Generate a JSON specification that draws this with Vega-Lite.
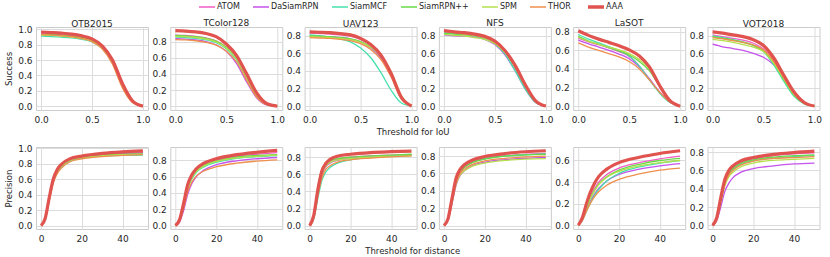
{
"$schema":"https://vega.github.io/schema/vega-lite/v6.json",
"padding":{"left":4,"top":3,"right":5,"bottom":2},
"config":{"font":"DejaVu Sans","view":{"stroke":"#cccccc","strokeWidth":1},
"axis":{"grid":true,"gridColor":"#dcdcdc","domain":false,"ticks":false,"labelFontSize":9,"labelColor":"#262626","titleFontSize":8.5,"titleFontWeight":"normal","titleColor":"#262626","labelPadding":4,"labelFlush":false,"titlePadding":4},
"axisX":{"labelPadding":5},
"title":{"fontSize":9,"fontWeight":"normal","color":"#262626","offset":-4},
"legend":{"orient":"top","layout":{"top":{"anchor":"middle"}},"offset":4,"direction":"horizontal","gridAlign":"none","symbolType":"stroke","symbolSize":256,"symbolStrokeWidth":1.5,"labelFontSize":8,"labelColor":"#262626","columnPadding":10,"labelOffset":6,"padding":0}},
"datasets":{
"s1":[
{"t":"ATOM","x":0,"y":0.94},{"t":"ATOM","x":0.1,"y":0.935},{"t":"ATOM","x":0.2,"y":0.928},{"t":"ATOM","x":0.3,"y":0.915},{"t":"ATOM","x":0.4,"y":0.893},{"t":"ATOM","x":0.5,"y":0.855},{"t":"ATOM","x":0.6,"y":0.765},{"t":"ATOM","x":0.7,"y":0.58},{"t":"ATOM","x":0.8,"y":0.265},{"t":"ATOM","x":0.9,"y":0.055},{"t":"ATOM","x":1,"y":0},
{"t":"DaSiamRPN","x":0,"y":0.935},{"t":"DaSiamRPN","x":0.1,"y":0.93},{"t":"DaSiamRPN","x":0.2,"y":0.922},{"t":"DaSiamRPN","x":0.3,"y":0.91},{"t":"DaSiamRPN","x":0.4,"y":0.89},{"t":"DaSiamRPN","x":0.5,"y":0.86},{"t":"DaSiamRPN","x":0.6,"y":0.78},{"t":"DaSiamRPN","x":0.7,"y":0.61},{"t":"DaSiamRPN","x":0.8,"y":0.3},{"t":"DaSiamRPN","x":0.9,"y":0.07},{"t":"DaSiamRPN","x":1,"y":0},
{"t":"SiamMCF","x":0,"y":0.91},{"t":"SiamMCF","x":0.1,"y":0.905},{"t":"SiamMCF","x":0.2,"y":0.898},{"t":"SiamMCF","x":0.3,"y":0.888},{"t":"SiamMCF","x":0.4,"y":0.87},{"t":"SiamMCF","x":0.5,"y":0.835},{"t":"SiamMCF","x":0.6,"y":0.75},{"t":"SiamMCF","x":0.7,"y":0.57},{"t":"SiamMCF","x":0.8,"y":0.26},{"t":"SiamMCF","x":0.9,"y":0.05},{"t":"SiamMCF","x":1,"y":0},
{"t":"SiamRPN++","x":0,"y":0.935},{"t":"SiamRPN++","x":0.1,"y":0.93},{"t":"SiamRPN++","x":0.2,"y":0.922},{"t":"SiamRPN++","x":0.3,"y":0.91},{"t":"SiamRPN++","x":0.4,"y":0.89},{"t":"SiamRPN++","x":0.5,"y":0.855},{"t":"SiamRPN++","x":0.6,"y":0.77},{"t":"SiamRPN++","x":0.7,"y":0.59},{"t":"SiamRPN++","x":0.8,"y":0.27},{"t":"SiamRPN++","x":0.9,"y":0.055},{"t":"SiamRPN++","x":1,"y":0},
{"t":"SPM","x":0,"y":0.925},{"t":"SPM","x":0.1,"y":0.92},{"t":"SPM","x":0.2,"y":0.912},{"t":"SPM","x":0.3,"y":0.9},{"t":"SPM","x":0.4,"y":0.88},{"t":"SPM","x":0.5,"y":0.845},{"t":"SPM","x":0.6,"y":0.76},{"t":"SPM","x":0.7,"y":0.575},{"t":"SPM","x":0.8,"y":0.26},{"t":"SPM","x":0.9,"y":0.05},{"t":"SPM","x":1,"y":0},
{"t":"THOR","x":0,"y":0.93},{"t":"THOR","x":0.1,"y":0.925},{"t":"THOR","x":0.2,"y":0.916},{"t":"THOR","x":0.3,"y":0.903},{"t":"THOR","x":0.4,"y":0.88},{"t":"THOR","x":0.5,"y":0.84},{"t":"THOR","x":0.6,"y":0.745},{"t":"THOR","x":0.7,"y":0.55},{"t":"THOR","x":0.8,"y":0.235},{"t":"THOR","x":0.9,"y":0.045},{"t":"THOR","x":1,"y":0},
{"t":"AAA","x":0,"y":0.965},{"t":"AAA","x":0.1,"y":0.958},{"t":"AAA","x":0.2,"y":0.95},{"t":"AAA","x":0.3,"y":0.938},{"t":"AAA","x":0.4,"y":0.915},{"t":"AAA","x":0.5,"y":0.875},{"t":"AAA","x":0.6,"y":0.785},{"t":"AAA","x":0.7,"y":0.605},{"t":"AAA","x":0.8,"y":0.29},{"t":"AAA","x":0.9,"y":0.065},{"t":"AAA","x":1,"y":0}],
"s2":[
{"t":"ATOM","x":0,"y":0.88},{"t":"ATOM","x":0.1,"y":0.875},{"t":"ATOM","x":0.2,"y":0.865},{"t":"ATOM","x":0.3,"y":0.845},{"t":"ATOM","x":0.4,"y":0.81},{"t":"ATOM","x":0.5,"y":0.73},{"t":"ATOM","x":0.6,"y":0.6},{"t":"ATOM","x":0.7,"y":0.37},{"t":"ATOM","x":0.8,"y":0.14},{"t":"ATOM","x":0.9,"y":0.025},{"t":"ATOM","x":1,"y":0},
{"t":"DaSiamRPN","x":0,"y":0.835},{"t":"DaSiamRPN","x":0.1,"y":0.83},{"t":"DaSiamRPN","x":0.2,"y":0.82},{"t":"DaSiamRPN","x":0.3,"y":0.8},{"t":"DaSiamRPN","x":0.4,"y":0.76},{"t":"DaSiamRPN","x":0.5,"y":0.68},{"t":"DaSiamRPN","x":0.6,"y":0.53},{"t":"DaSiamRPN","x":0.7,"y":0.3},{"t":"DaSiamRPN","x":0.8,"y":0.1},{"t":"DaSiamRPN","x":0.9,"y":0.015},{"t":"DaSiamRPN","x":1,"y":0},
{"t":"SiamMCF","x":0,"y":0.855},{"t":"SiamMCF","x":0.1,"y":0.85},{"t":"SiamMCF","x":0.2,"y":0.84},{"t":"SiamMCF","x":0.3,"y":0.82},{"t":"SiamMCF","x":0.4,"y":0.785},{"t":"SiamMCF","x":0.5,"y":0.71},{"t":"SiamMCF","x":0.6,"y":0.575},{"t":"SiamMCF","x":0.7,"y":0.35},{"t":"SiamMCF","x":0.8,"y":0.125},{"t":"SiamMCF","x":0.9,"y":0.02},{"t":"SiamMCF","x":1,"y":0},
{"t":"SiamRPN++","x":0,"y":0.875},{"t":"SiamRPN++","x":0.1,"y":0.87},{"t":"SiamRPN++","x":0.2,"y":0.86},{"t":"SiamRPN++","x":0.3,"y":0.84},{"t":"SiamRPN++","x":0.4,"y":0.805},{"t":"SiamRPN++","x":0.5,"y":0.73},{"t":"SiamRPN++","x":0.6,"y":0.6},{"t":"SiamRPN++","x":0.7,"y":0.37},{"t":"SiamRPN++","x":0.8,"y":0.14},{"t":"SiamRPN++","x":0.9,"y":0.025},{"t":"SiamRPN++","x":1,"y":0},
{"t":"SPM","x":0,"y":0.865},{"t":"SPM","x":0.1,"y":0.86},{"t":"SPM","x":0.2,"y":0.85},{"t":"SPM","x":0.3,"y":0.83},{"t":"SPM","x":0.4,"y":0.795},{"t":"SPM","x":0.5,"y":0.72},{"t":"SPM","x":0.6,"y":0.59},{"t":"SPM","x":0.7,"y":0.36},{"t":"SPM","x":0.8,"y":0.13},{"t":"SPM","x":0.9,"y":0.02},{"t":"SPM","x":1,"y":0},
{"t":"THOR","x":0,"y":0.825},{"t":"THOR","x":0.1,"y":0.82},{"t":"THOR","x":0.2,"y":0.81},{"t":"THOR","x":0.3,"y":0.79},{"t":"THOR","x":0.4,"y":0.755},{"t":"THOR","x":0.5,"y":0.68},{"t":"THOR","x":0.6,"y":0.55},{"t":"THOR","x":0.7,"y":0.32},{"t":"THOR","x":0.8,"y":0.11},{"t":"THOR","x":0.9,"y":0.018},{"t":"THOR","x":1,"y":0},
{"t":"AAA","x":0,"y":0.935},{"t":"AAA","x":0.1,"y":0.93},{"t":"AAA","x":0.2,"y":0.92},{"t":"AAA","x":0.3,"y":0.9},{"t":"AAA","x":0.4,"y":0.86},{"t":"AAA","x":0.5,"y":0.77},{"t":"AAA","x":0.6,"y":0.63},{"t":"AAA","x":0.7,"y":0.4},{"t":"AAA","x":0.8,"y":0.16},{"t":"AAA","x":0.9,"y":0.03},{"t":"AAA","x":1,"y":0}],
"s3":[
{"t":"ATOM","x":0,"y":0.83},{"t":"ATOM","x":0.1,"y":0.825},{"t":"ATOM","x":0.2,"y":0.82},{"t":"ATOM","x":0.3,"y":0.81},{"t":"ATOM","x":0.4,"y":0.795},{"t":"ATOM","x":0.5,"y":0.76},{"t":"ATOM","x":0.6,"y":0.69},{"t":"ATOM","x":0.7,"y":0.57},{"t":"ATOM","x":0.8,"y":0.36},{"t":"ATOM","x":0.9,"y":0.1},{"t":"ATOM","x":1,"y":0},
{"t":"DaSiamRPN","x":0,"y":0.8},{"t":"DaSiamRPN","x":0.1,"y":0.795},{"t":"DaSiamRPN","x":0.2,"y":0.79},{"t":"DaSiamRPN","x":0.3,"y":0.78},{"t":"DaSiamRPN","x":0.4,"y":0.765},{"t":"DaSiamRPN","x":0.5,"y":0.73},{"t":"DaSiamRPN","x":0.6,"y":0.665},{"t":"DaSiamRPN","x":0.7,"y":0.55},{"t":"DaSiamRPN","x":0.8,"y":0.35},{"t":"DaSiamRPN","x":0.9,"y":0.09},{"t":"DaSiamRPN","x":1,"y":0},
{"t":"SiamMCF","x":0,"y":0.81},{"t":"SiamMCF","x":0.1,"y":0.8},{"t":"SiamMCF","x":0.2,"y":0.785},{"t":"SiamMCF","x":0.3,"y":0.765},{"t":"SiamMCF","x":0.4,"y":0.73},{"t":"SiamMCF","x":0.5,"y":0.66},{"t":"SiamMCF","x":0.6,"y":0.55},{"t":"SiamMCF","x":0.7,"y":0.38},{"t":"SiamMCF","x":0.8,"y":0.18},{"t":"SiamMCF","x":0.9,"y":0.035},{"t":"SiamMCF","x":1,"y":0},
{"t":"SiamRPN++","x":0,"y":0.8},{"t":"SiamRPN++","x":0.1,"y":0.795},{"t":"SiamRPN++","x":0.2,"y":0.79},{"t":"SiamRPN++","x":0.3,"y":0.78},{"t":"SiamRPN++","x":0.4,"y":0.765},{"t":"SiamRPN++","x":0.5,"y":0.735},{"t":"SiamRPN++","x":0.6,"y":0.675},{"t":"SiamRPN++","x":0.7,"y":0.57},{"t":"SiamRPN++","x":0.8,"y":0.38},{"t":"SiamRPN++","x":0.9,"y":0.11},{"t":"SiamRPN++","x":1,"y":0},
{"t":"SPM","x":0,"y":0.79},{"t":"SPM","x":0.1,"y":0.785},{"t":"SPM","x":0.2,"y":0.78},{"t":"SPM","x":0.3,"y":0.77},{"t":"SPM","x":0.4,"y":0.755},{"t":"SPM","x":0.5,"y":0.725},{"t":"SPM","x":0.6,"y":0.67},{"t":"SPM","x":0.7,"y":0.57},{"t":"SPM","x":0.8,"y":0.39},{"t":"SPM","x":0.9,"y":0.12},{"t":"SPM","x":1,"y":0},
{"t":"THOR","x":0,"y":0.78},{"t":"THOR","x":0.1,"y":0.775},{"t":"THOR","x":0.2,"y":0.77},{"t":"THOR","x":0.3,"y":0.76},{"t":"THOR","x":0.4,"y":0.745},{"t":"THOR","x":0.5,"y":0.71},{"t":"THOR","x":0.6,"y":0.645},{"t":"THOR","x":0.7,"y":0.53},{"t":"THOR","x":0.8,"y":0.33},{"t":"THOR","x":0.9,"y":0.08},{"t":"THOR","x":1,"y":0},
{"t":"AAA","x":0,"y":0.845},{"t":"AAA","x":0.1,"y":0.84},{"t":"AAA","x":0.2,"y":0.835},{"t":"AAA","x":0.3,"y":0.825},{"t":"AAA","x":0.4,"y":0.81},{"t":"AAA","x":0.5,"y":0.77},{"t":"AAA","x":0.6,"y":0.7},{"t":"AAA","x":0.7,"y":0.58},{"t":"AAA","x":0.8,"y":0.37},{"t":"AAA","x":0.9,"y":0.1},{"t":"AAA","x":1,"y":0}],
"s4":[
{"t":"ATOM","x":0,"y":0.84},{"t":"ATOM","x":0.1,"y":0.83},{"t":"ATOM","x":0.2,"y":0.82},{"t":"ATOM","x":0.3,"y":0.81},{"t":"ATOM","x":0.4,"y":0.785},{"t":"ATOM","x":0.5,"y":0.73},{"t":"ATOM","x":0.6,"y":0.62},{"t":"ATOM","x":0.7,"y":0.44},{"t":"ATOM","x":0.8,"y":0.22},{"t":"ATOM","x":0.9,"y":0.05},{"t":"ATOM","x":1,"y":0},
{"t":"DaSiamRPN","x":0,"y":0.81},{"t":"DaSiamRPN","x":0.1,"y":0.8},{"t":"DaSiamRPN","x":0.2,"y":0.795},{"t":"DaSiamRPN","x":0.3,"y":0.785},{"t":"DaSiamRPN","x":0.4,"y":0.76},{"t":"DaSiamRPN","x":0.5,"y":0.7},{"t":"DaSiamRPN","x":0.6,"y":0.58},{"t":"DaSiamRPN","x":0.7,"y":0.4},{"t":"DaSiamRPN","x":0.8,"y":0.19},{"t":"DaSiamRPN","x":0.9,"y":0.04},{"t":"DaSiamRPN","x":1,"y":0},
{"t":"SiamMCF","x":0,"y":0.83},{"t":"SiamMCF","x":0.1,"y":0.825},{"t":"SiamMCF","x":0.2,"y":0.815},{"t":"SiamMCF","x":0.3,"y":0.8},{"t":"SiamMCF","x":0.4,"y":0.77},{"t":"SiamMCF","x":0.5,"y":0.71},{"t":"SiamMCF","x":0.6,"y":0.59},{"t":"SiamMCF","x":0.7,"y":0.4},{"t":"SiamMCF","x":0.8,"y":0.19},{"t":"SiamMCF","x":0.9,"y":0.04},{"t":"SiamMCF","x":1,"y":0},
{"t":"SiamRPN++","x":0,"y":0.83},{"t":"SiamRPN++","x":0.1,"y":0.82},{"t":"SiamRPN++","x":0.2,"y":0.81},{"t":"SiamRPN++","x":0.3,"y":0.8},{"t":"SiamRPN++","x":0.4,"y":0.78},{"t":"SiamRPN++","x":0.5,"y":0.725},{"t":"SiamRPN++","x":0.6,"y":0.615},{"t":"SiamRPN++","x":0.7,"y":0.44},{"t":"SiamRPN++","x":0.8,"y":0.22},{"t":"SiamRPN++","x":0.9,"y":0.05},{"t":"SiamRPN++","x":1,"y":0},
{"t":"SPM","x":0,"y":0.815},{"t":"SPM","x":0.1,"y":0.805},{"t":"SPM","x":0.2,"y":0.795},{"t":"SPM","x":0.3,"y":0.78},{"t":"SPM","x":0.4,"y":0.76},{"t":"SPM","x":0.5,"y":0.71},{"t":"SPM","x":0.6,"y":0.61},{"t":"SPM","x":0.7,"y":0.44},{"t":"SPM","x":0.8,"y":0.23},{"t":"SPM","x":0.9,"y":0.055},{"t":"SPM","x":1,"y":0},
{"t":"THOR","x":0,"y":0.85},{"t":"THOR","x":0.1,"y":0.835},{"t":"THOR","x":0.2,"y":0.82},{"t":"THOR","x":0.3,"y":0.805},{"t":"THOR","x":0.4,"y":0.78},{"t":"THOR","x":0.5,"y":0.725},{"t":"THOR","x":0.6,"y":0.62},{"t":"THOR","x":0.7,"y":0.45},{"t":"THOR","x":0.8,"y":0.23},{"t":"THOR","x":0.9,"y":0.055},{"t":"THOR","x":1,"y":0},
{"t":"AAA","x":0,"y":0.86},{"t":"AAA","x":0.1,"y":0.845},{"t":"AAA","x":0.2,"y":0.835},{"t":"AAA","x":0.3,"y":0.82},{"t":"AAA","x":0.4,"y":0.795},{"t":"AAA","x":0.5,"y":0.74},{"t":"AAA","x":0.6,"y":0.63},{"t":"AAA","x":0.7,"y":0.46},{"t":"AAA","x":0.8,"y":0.24},{"t":"AAA","x":0.9,"y":0.06},{"t":"AAA","x":1,"y":0}],
"s5":[
{"t":"ATOM","x":0,"y":0.73},{"t":"ATOM","x":0.1,"y":0.69},{"t":"ATOM","x":0.2,"y":0.66},{"t":"ATOM","x":0.3,"y":0.625},{"t":"ATOM","x":0.4,"y":0.585},{"t":"ATOM","x":0.5,"y":0.535},{"t":"ATOM","x":0.6,"y":0.43},{"t":"ATOM","x":0.7,"y":0.29},{"t":"ATOM","x":0.8,"y":0.15},{"t":"ATOM","x":0.9,"y":0.045},{"t":"ATOM","x":1,"y":0},
{"t":"DaSiamRPN","x":0,"y":0.71},{"t":"DaSiamRPN","x":0.1,"y":0.67},{"t":"DaSiamRPN","x":0.2,"y":0.635},{"t":"DaSiamRPN","x":0.3,"y":0.6},{"t":"DaSiamRPN","x":0.4,"y":0.56},{"t":"DaSiamRPN","x":0.5,"y":0.51},{"t":"DaSiamRPN","x":0.6,"y":0.42},{"t":"DaSiamRPN","x":0.7,"y":0.29},{"t":"DaSiamRPN","x":0.8,"y":0.15},{"t":"DaSiamRPN","x":0.9,"y":0.045},{"t":"DaSiamRPN","x":1,"y":0},
{"t":"SiamMCF","x":0,"y":0.77},{"t":"SiamMCF","x":0.1,"y":0.72},{"t":"SiamMCF","x":0.2,"y":0.68},{"t":"SiamMCF","x":0.3,"y":0.64},{"t":"SiamMCF","x":0.4,"y":0.595},{"t":"SiamMCF","x":0.5,"y":0.54},{"t":"SiamMCF","x":0.6,"y":0.43},{"t":"SiamMCF","x":0.7,"y":0.28},{"t":"SiamMCF","x":0.8,"y":0.14},{"t":"SiamMCF","x":0.9,"y":0.04},{"t":"SiamMCF","x":1,"y":0},
{"t":"SiamRPN++","x":0,"y":0.75},{"t":"SiamRPN++","x":0.1,"y":0.7},{"t":"SiamRPN++","x":0.2,"y":0.665},{"t":"SiamRPN++","x":0.3,"y":0.63},{"t":"SiamRPN++","x":0.4,"y":0.595},{"t":"SiamRPN++","x":0.5,"y":0.55},{"t":"SiamRPN++","x":0.6,"y":0.48},{"t":"SiamRPN++","x":0.7,"y":0.38},{"t":"SiamRPN++","x":0.8,"y":0.21},{"t":"SiamRPN++","x":0.9,"y":0.06},{"t":"SiamRPN++","x":1,"y":0},
{"t":"SPM","x":0,"y":0.74},{"t":"SPM","x":0.1,"y":0.695},{"t":"SPM","x":0.2,"y":0.665},{"t":"SPM","x":0.3,"y":0.635},{"t":"SPM","x":0.4,"y":0.605},{"t":"SPM","x":0.5,"y":0.565},{"t":"SPM","x":0.6,"y":0.5},{"t":"SPM","x":0.7,"y":0.4},{"t":"SPM","x":0.8,"y":0.22},{"t":"SPM","x":0.9,"y":0.065},{"t":"SPM","x":1,"y":0},
{"t":"THOR","x":0,"y":0.68},{"t":"THOR","x":0.1,"y":0.635},{"t":"THOR","x":0.2,"y":0.6},{"t":"THOR","x":0.3,"y":0.565},{"t":"THOR","x":0.4,"y":0.53},{"t":"THOR","x":0.5,"y":0.48},{"t":"THOR","x":0.6,"y":0.4},{"t":"THOR","x":0.7,"y":0.28},{"t":"THOR","x":0.8,"y":0.15},{"t":"THOR","x":0.9,"y":0.045},{"t":"THOR","x":1,"y":0},
{"t":"AAA","x":0,"y":0.81},{"t":"AAA","x":0.1,"y":0.76},{"t":"AAA","x":0.2,"y":0.72},{"t":"AAA","x":0.3,"y":0.685},{"t":"AAA","x":0.4,"y":0.65},{"t":"AAA","x":0.5,"y":0.605},{"t":"AAA","x":0.6,"y":0.54},{"t":"AAA","x":0.7,"y":0.42},{"t":"AAA","x":0.8,"y":0.22},{"t":"AAA","x":0.9,"y":0.06},{"t":"AAA","x":1,"y":0}],
"s6":[
{"t":"ATOM","x":0,"y":0.81},{"t":"ATOM","x":0.1,"y":0.79},{"t":"ATOM","x":0.2,"y":0.77},{"t":"ATOM","x":0.3,"y":0.75},{"t":"ATOM","x":0.4,"y":0.715},{"t":"ATOM","x":0.5,"y":0.65},{"t":"ATOM","x":0.6,"y":0.51},{"t":"ATOM","x":0.7,"y":0.32},{"t":"ATOM","x":0.8,"y":0.14},{"t":"ATOM","x":0.9,"y":0.035},{"t":"ATOM","x":1,"y":0},
{"t":"DaSiamRPN","x":0,"y":0.705},{"t":"DaSiamRPN","x":0.1,"y":0.675},{"t":"DaSiamRPN","x":0.2,"y":0.655},{"t":"DaSiamRPN","x":0.3,"y":0.635},{"t":"DaSiamRPN","x":0.4,"y":0.6},{"t":"DaSiamRPN","x":0.5,"y":0.555},{"t":"DaSiamRPN","x":0.6,"y":0.47},{"t":"DaSiamRPN","x":0.7,"y":0.33},{"t":"DaSiamRPN","x":0.8,"y":0.16},{"t":"DaSiamRPN","x":0.9,"y":0.045},{"t":"DaSiamRPN","x":1,"y":0},
{"t":"SiamMCF","x":0,"y":0.8},{"t":"SiamMCF","x":0.1,"y":0.78},{"t":"SiamMCF","x":0.2,"y":0.755},{"t":"SiamMCF","x":0.3,"y":0.73},{"t":"SiamMCF","x":0.4,"y":0.69},{"t":"SiamMCF","x":0.5,"y":0.62},{"t":"SiamMCF","x":0.6,"y":0.47},{"t":"SiamMCF","x":0.7,"y":0.28},{"t":"SiamMCF","x":0.8,"y":0.11},{"t":"SiamMCF","x":0.9,"y":0.025},{"t":"SiamMCF","x":1,"y":0},
{"t":"SiamRPN++","x":0,"y":0.79},{"t":"SiamRPN++","x":0.1,"y":0.77},{"t":"SiamRPN++","x":0.2,"y":0.75},{"t":"SiamRPN++","x":0.3,"y":0.725},{"t":"SiamRPN++","x":0.4,"y":0.69},{"t":"SiamRPN++","x":0.5,"y":0.63},{"t":"SiamRPN++","x":0.6,"y":0.49},{"t":"SiamRPN++","x":0.7,"y":0.3},{"t":"SiamRPN++","x":0.8,"y":0.125},{"t":"SiamRPN++","x":0.9,"y":0.03},{"t":"SiamRPN++","x":1,"y":0},
{"t":"SPM","x":0,"y":0.76},{"t":"SPM","x":0.1,"y":0.745},{"t":"SPM","x":0.2,"y":0.725},{"t":"SPM","x":0.3,"y":0.7},{"t":"SPM","x":0.4,"y":0.67},{"t":"SPM","x":0.5,"y":0.62},{"t":"SPM","x":0.6,"y":0.49},{"t":"SPM","x":0.7,"y":0.31},{"t":"SPM","x":0.8,"y":0.13},{"t":"SPM","x":0.9,"y":0.03},{"t":"SPM","x":1,"y":0},
{"t":"THOR","x":0,"y":0.78},{"t":"THOR","x":0.1,"y":0.765},{"t":"THOR","x":0.2,"y":0.745},{"t":"THOR","x":0.3,"y":0.725},{"t":"THOR","x":0.4,"y":0.695},{"t":"THOR","x":0.5,"y":0.64},{"t":"THOR","x":0.6,"y":0.51},{"t":"THOR","x":0.7,"y":0.32},{"t":"THOR","x":0.8,"y":0.14},{"t":"THOR","x":0.9,"y":0.035},{"t":"THOR","x":1,"y":0},
{"t":"AAA","x":0,"y":0.845},{"t":"AAA","x":0.1,"y":0.83},{"t":"AAA","x":0.2,"y":0.81},{"t":"AAA","x":0.3,"y":0.79},{"t":"AAA","x":0.4,"y":0.755},{"t":"AAA","x":0.5,"y":0.69},{"t":"AAA","x":0.6,"y":0.55},{"t":"AAA","x":0.7,"y":0.35},{"t":"AAA","x":0.8,"y":0.16},{"t":"AAA","x":0.9,"y":0.04},{"t":"AAA","x":1,"y":0}],
"p1":[
{"t":"ATOM","x":0,"y":0},{"t":"ATOM","x":2,"y":0.09},{"t":"ATOM","x":4,"y":0.35},{"t":"ATOM","x":6,"y":0.59},{"t":"ATOM","x":8,"y":0.71},{"t":"ATOM","x":10,"y":0.775},{"t":"ATOM","x":14,"y":0.845},{"t":"ATOM","x":20,"y":0.885},{"t":"ATOM","x":30,"y":0.915},{"t":"ATOM","x":40,"y":0.93},{"t":"ATOM","x":50,"y":0.94},
{"t":"DaSiamRPN","x":0,"y":0},{"t":"DaSiamRPN","x":2,"y":0.09},{"t":"DaSiamRPN","x":4,"y":0.35},{"t":"DaSiamRPN","x":6,"y":0.585},{"t":"DaSiamRPN","x":8,"y":0.705},{"t":"DaSiamRPN","x":10,"y":0.77},{"t":"DaSiamRPN","x":14,"y":0.84},{"t":"DaSiamRPN","x":20,"y":0.88},{"t":"DaSiamRPN","x":30,"y":0.91},{"t":"DaSiamRPN","x":40,"y":0.925},{"t":"DaSiamRPN","x":50,"y":0.935},
{"t":"SiamMCF","x":0,"y":0},{"t":"SiamMCF","x":2,"y":0.085},{"t":"SiamMCF","x":4,"y":0.33},{"t":"SiamMCF","x":6,"y":0.57},{"t":"SiamMCF","x":8,"y":0.69},{"t":"SiamMCF","x":10,"y":0.755},{"t":"SiamMCF","x":14,"y":0.83},{"t":"SiamMCF","x":20,"y":0.87},{"t":"SiamMCF","x":30,"y":0.895},{"t":"SiamMCF","x":40,"y":0.905},{"t":"SiamMCF","x":50,"y":0.91},
{"t":"SiamRPN++","x":0,"y":0},{"t":"SiamRPN++","x":2,"y":0.09},{"t":"SiamRPN++","x":4,"y":0.35},{"t":"SiamRPN++","x":6,"y":0.59},{"t":"SiamRPN++","x":8,"y":0.715},{"t":"SiamRPN++","x":10,"y":0.78},{"t":"SiamRPN++","x":14,"y":0.85},{"t":"SiamRPN++","x":20,"y":0.885},{"t":"SiamRPN++","x":30,"y":0.91},{"t":"SiamRPN++","x":40,"y":0.92},{"t":"SiamRPN++","x":50,"y":0.925},
{"t":"SPM","x":0,"y":0},{"t":"SPM","x":2,"y":0.085},{"t":"SPM","x":4,"y":0.34},{"t":"SPM","x":6,"y":0.58},{"t":"SPM","x":8,"y":0.7},{"t":"SPM","x":10,"y":0.765},{"t":"SPM","x":14,"y":0.84},{"t":"SPM","x":20,"y":0.875},{"t":"SPM","x":30,"y":0.9},{"t":"SPM","x":40,"y":0.915},{"t":"SPM","x":50,"y":0.92},
{"t":"THOR","x":0,"y":0},{"t":"THOR","x":2,"y":0.085},{"t":"THOR","x":4,"y":0.32},{"t":"THOR","x":6,"y":0.55},{"t":"THOR","x":8,"y":0.67},{"t":"THOR","x":10,"y":0.74},{"t":"THOR","x":14,"y":0.82},{"t":"THOR","x":20,"y":0.86},{"t":"THOR","x":30,"y":0.89},{"t":"THOR","x":40,"y":0.905},{"t":"THOR","x":50,"y":0.915},
{"t":"AAA","x":0,"y":0},{"t":"AAA","x":2,"y":0.09},{"t":"AAA","x":4,"y":0.36},{"t":"AAA","x":6,"y":0.6},{"t":"AAA","x":8,"y":0.725},{"t":"AAA","x":10,"y":0.79},{"t":"AAA","x":14,"y":0.86},{"t":"AAA","x":20,"y":0.895},{"t":"AAA","x":30,"y":0.93},{"t":"AAA","x":40,"y":0.95},{"t":"AAA","x":50,"y":0.962}],
"p2":[
{"t":"ATOM","x":0,"y":0},{"t":"ATOM","x":2,"y":0.065},{"t":"ATOM","x":4,"y":0.26},{"t":"ATOM","x":6,"y":0.48},{"t":"ATOM","x":8,"y":0.6},{"t":"ATOM","x":10,"y":0.67},{"t":"ATOM","x":14,"y":0.745},{"t":"ATOM","x":20,"y":0.8},{"t":"ATOM","x":30,"y":0.85},{"t":"ATOM","x":40,"y":0.875},{"t":"ATOM","x":50,"y":0.895},
{"t":"DaSiamRPN","x":0,"y":0},{"t":"DaSiamRPN","x":2,"y":0.04},{"t":"DaSiamRPN","x":4,"y":0.18},{"t":"DaSiamRPN","x":6,"y":0.38},{"t":"DaSiamRPN","x":8,"y":0.51},{"t":"DaSiamRPN","x":10,"y":0.59},{"t":"DaSiamRPN","x":14,"y":0.68},{"t":"DaSiamRPN","x":20,"y":0.745},{"t":"DaSiamRPN","x":30,"y":0.795},{"t":"DaSiamRPN","x":40,"y":0.82},{"t":"DaSiamRPN","x":50,"y":0.835},
{"t":"SiamMCF","x":0,"y":0},{"t":"SiamMCF","x":2,"y":0.06},{"t":"SiamMCF","x":4,"y":0.24},{"t":"SiamMCF","x":6,"y":0.45},{"t":"SiamMCF","x":8,"y":0.57},{"t":"SiamMCF","x":10,"y":0.645},{"t":"SiamMCF","x":14,"y":0.72},{"t":"SiamMCF","x":20,"y":0.775},{"t":"SiamMCF","x":30,"y":0.825},{"t":"SiamMCF","x":40,"y":0.845},{"t":"SiamMCF","x":50,"y":0.86},
{"t":"SiamRPN++","x":0,"y":0},{"t":"SiamRPN++","x":2,"y":0.065},{"t":"SiamRPN++","x":4,"y":0.255},{"t":"SiamRPN++","x":6,"y":0.47},{"t":"SiamRPN++","x":8,"y":0.59},{"t":"SiamRPN++","x":10,"y":0.665},{"t":"SiamRPN++","x":14,"y":0.74},{"t":"SiamRPN++","x":20,"y":0.79},{"t":"SiamRPN++","x":30,"y":0.84},{"t":"SiamRPN++","x":40,"y":0.86},{"t":"SiamRPN++","x":50,"y":0.87},
{"t":"SPM","x":0,"y":0},{"t":"SPM","x":2,"y":0.06},{"t":"SPM","x":4,"y":0.25},{"t":"SPM","x":6,"y":0.46},{"t":"SPM","x":8,"y":0.58},{"t":"SPM","x":10,"y":0.655},{"t":"SPM","x":14,"y":0.73},{"t":"SPM","x":20,"y":0.785},{"t":"SPM","x":30,"y":0.83},{"t":"SPM","x":40,"y":0.85},{"t":"SPM","x":50,"y":0.865},
{"t":"THOR","x":0,"y":0},{"t":"THOR","x":2,"y":0.05},{"t":"THOR","x":4,"y":0.21},{"t":"THOR","x":6,"y":0.41},{"t":"THOR","x":8,"y":0.53},{"t":"THOR","x":10,"y":0.6},{"t":"THOR","x":14,"y":0.67},{"t":"THOR","x":20,"y":0.72},{"t":"THOR","x":30,"y":0.765},{"t":"THOR","x":40,"y":0.79},{"t":"THOR","x":50,"y":0.805},
{"t":"AAA","x":0,"y":0},{"t":"AAA","x":2,"y":0.07},{"t":"AAA","x":4,"y":0.27},{"t":"AAA","x":6,"y":0.5},{"t":"AAA","x":8,"y":0.62},{"t":"AAA","x":10,"y":0.69},{"t":"AAA","x":14,"y":0.765},{"t":"AAA","x":20,"y":0.82},{"t":"AAA","x":30,"y":0.87},{"t":"AAA","x":40,"y":0.9},{"t":"AAA","x":50,"y":0.923}],
"p3":[
{"t":"ATOM","x":0,"y":0},{"t":"ATOM","x":2,"y":0.12},{"t":"ATOM","x":4,"y":0.42},{"t":"ATOM","x":6,"y":0.63},{"t":"ATOM","x":8,"y":0.71},{"t":"ATOM","x":10,"y":0.75},{"t":"ATOM","x":14,"y":0.78},{"t":"ATOM","x":20,"y":0.8},{"t":"ATOM","x":30,"y":0.815},{"t":"ATOM","x":40,"y":0.825},{"t":"ATOM","x":50,"y":0.83},
{"t":"DaSiamRPN","x":0,"y":0},{"t":"DaSiamRPN","x":2,"y":0.11},{"t":"DaSiamRPN","x":4,"y":0.39},{"t":"DaSiamRPN","x":6,"y":0.6},{"t":"DaSiamRPN","x":8,"y":0.69},{"t":"DaSiamRPN","x":10,"y":0.73},{"t":"DaSiamRPN","x":14,"y":0.765},{"t":"DaSiamRPN","x":20,"y":0.79},{"t":"DaSiamRPN","x":30,"y":0.81},{"t":"DaSiamRPN","x":40,"y":0.82},{"t":"DaSiamRPN","x":50,"y":0.825},
{"t":"SiamMCF","x":0,"y":0},{"t":"SiamMCF","x":2,"y":0.08},{"t":"SiamMCF","x":4,"y":0.32},{"t":"SiamMCF","x":6,"y":0.53},{"t":"SiamMCF","x":8,"y":0.63},{"t":"SiamMCF","x":10,"y":0.68},{"t":"SiamMCF","x":14,"y":0.735},{"t":"SiamMCF","x":20,"y":0.77},{"t":"SiamMCF","x":30,"y":0.8},{"t":"SiamMCF","x":40,"y":0.815},{"t":"SiamMCF","x":50,"y":0.825},
{"t":"SiamRPN++","x":0,"y":0},{"t":"SiamRPN++","x":2,"y":0.13},{"t":"SiamRPN++","x":4,"y":0.45},{"t":"SiamRPN++","x":6,"y":0.66},{"t":"SiamRPN++","x":8,"y":0.73},{"t":"SiamRPN++","x":10,"y":0.76},{"t":"SiamRPN++","x":14,"y":0.785},{"t":"SiamRPN++","x":20,"y":0.8},{"t":"SiamRPN++","x":30,"y":0.815},{"t":"SiamRPN++","x":40,"y":0.825},{"t":"SiamRPN++","x":50,"y":0.835},
{"t":"SPM","x":0,"y":0},{"t":"SPM","x":2,"y":0.11},{"t":"SPM","x":4,"y":0.4},{"t":"SPM","x":6,"y":0.61},{"t":"SPM","x":8,"y":0.7},{"t":"SPM","x":10,"y":0.74},{"t":"SPM","x":14,"y":0.77},{"t":"SPM","x":20,"y":0.785},{"t":"SPM","x":30,"y":0.8},{"t":"SPM","x":40,"y":0.81},{"t":"SPM","x":50,"y":0.815},
{"t":"THOR","x":0,"y":0},{"t":"THOR","x":2,"y":0.09},{"t":"THOR","x":4,"y":0.35},{"t":"THOR","x":6,"y":0.56},{"t":"THOR","x":8,"y":0.66},{"t":"THOR","x":10,"y":0.7},{"t":"THOR","x":14,"y":0.745},{"t":"THOR","x":20,"y":0.77},{"t":"THOR","x":30,"y":0.79},{"t":"THOR","x":40,"y":0.805},{"t":"THOR","x":50,"y":0.815},
{"t":"AAA","x":0,"y":0},{"t":"AAA","x":2,"y":0.12},{"t":"AAA","x":4,"y":0.42},{"t":"AAA","x":6,"y":0.64},{"t":"AAA","x":8,"y":0.73},{"t":"AAA","x":10,"y":0.775},{"t":"AAA","x":14,"y":0.815},{"t":"AAA","x":20,"y":0.835},{"t":"AAA","x":30,"y":0.855},{"t":"AAA","x":40,"y":0.865},{"t":"AAA","x":50,"y":0.872}],
"p4":[
{"t":"ATOM","x":0,"y":0},{"t":"ATOM","x":2,"y":0.075},{"t":"ATOM","x":4,"y":0.3},{"t":"ATOM","x":6,"y":0.52},{"t":"ATOM","x":8,"y":0.62},{"t":"ATOM","x":10,"y":0.67},{"t":"ATOM","x":14,"y":0.73},{"t":"ATOM","x":20,"y":0.77},{"t":"ATOM","x":30,"y":0.805},{"t":"ATOM","x":40,"y":0.82},{"t":"ATOM","x":50,"y":0.83},
{"t":"DaSiamRPN","x":0,"y":0},{"t":"DaSiamRPN","x":2,"y":0.06},{"t":"DaSiamRPN","x":4,"y":0.26},{"t":"DaSiamRPN","x":6,"y":0.47},{"t":"DaSiamRPN","x":8,"y":0.58},{"t":"DaSiamRPN","x":10,"y":0.63},{"t":"DaSiamRPN","x":14,"y":0.69},{"t":"DaSiamRPN","x":20,"y":0.73},{"t":"DaSiamRPN","x":30,"y":0.76},{"t":"DaSiamRPN","x":40,"y":0.775},{"t":"DaSiamRPN","x":50,"y":0.785},
{"t":"SiamMCF","x":0,"y":0},{"t":"SiamMCF","x":2,"y":0.075},{"t":"SiamMCF","x":4,"y":0.3},{"t":"SiamMCF","x":6,"y":0.53},{"t":"SiamMCF","x":8,"y":0.63},{"t":"SiamMCF","x":10,"y":0.675},{"t":"SiamMCF","x":14,"y":0.73},{"t":"SiamMCF","x":20,"y":0.77},{"t":"SiamMCF","x":30,"y":0.8},{"t":"SiamMCF","x":40,"y":0.815},{"t":"SiamMCF","x":50,"y":0.825},
{"t":"SiamRPN++","x":0,"y":0},{"t":"SiamRPN++","x":2,"y":0.075},{"t":"SiamRPN++","x":4,"y":0.3},{"t":"SiamRPN++","x":6,"y":0.53},{"t":"SiamRPN++","x":8,"y":0.625},{"t":"SiamRPN++","x":10,"y":0.67},{"t":"SiamRPN++","x":14,"y":0.725},{"t":"SiamRPN++","x":20,"y":0.765},{"t":"SiamRPN++","x":30,"y":0.8},{"t":"SiamRPN++","x":40,"y":0.815},{"t":"SiamRPN++","x":50,"y":0.82},
{"t":"SPM","x":0,"y":0},{"t":"SPM","x":2,"y":0.065},{"t":"SPM","x":4,"y":0.27},{"t":"SPM","x":6,"y":0.48},{"t":"SPM","x":8,"y":0.585},{"t":"SPM","x":10,"y":0.63},{"t":"SPM","x":14,"y":0.685},{"t":"SPM","x":20,"y":0.72},{"t":"SPM","x":30,"y":0.75},{"t":"SPM","x":40,"y":0.765},{"t":"SPM","x":50,"y":0.77},
{"t":"THOR","x":0,"y":0},{"t":"THOR","x":2,"y":0.07},{"t":"THOR","x":4,"y":0.29},{"t":"THOR","x":6,"y":0.5},{"t":"THOR","x":8,"y":0.6},{"t":"THOR","x":10,"y":0.65},{"t":"THOR","x":14,"y":0.705},{"t":"THOR","x":20,"y":0.745},{"t":"THOR","x":30,"y":0.775},{"t":"THOR","x":40,"y":0.79},{"t":"THOR","x":50,"y":0.8},
{"t":"AAA","x":0,"y":0},{"t":"AAA","x":2,"y":0.08},{"t":"AAA","x":4,"y":0.32},{"t":"AAA","x":6,"y":0.55},{"t":"AAA","x":8,"y":0.65},{"t":"AAA","x":10,"y":0.7},{"t":"AAA","x":14,"y":0.755},{"t":"AAA","x":20,"y":0.795},{"t":"AAA","x":30,"y":0.83},{"t":"AAA","x":40,"y":0.85},{"t":"AAA","x":50,"y":0.862}],
"p5":[
{"t":"ATOM","x":0,"y":0},{"t":"ATOM","x":2,"y":0.06},{"t":"ATOM","x":4,"y":0.17},{"t":"ATOM","x":6,"y":0.27},{"t":"ATOM","x":8,"y":0.34},{"t":"ATOM","x":10,"y":0.4},{"t":"ATOM","x":14,"y":0.47},{"t":"ATOM","x":20,"y":0.53},{"t":"ATOM","x":30,"y":0.58},{"t":"ATOM","x":40,"y":0.615},{"t":"ATOM","x":50,"y":0.64},
{"t":"DaSiamRPN","x":0,"y":0},{"t":"DaSiamRPN","x":2,"y":0.05},{"t":"DaSiamRPN","x":4,"y":0.14},{"t":"DaSiamRPN","x":6,"y":0.225},{"t":"DaSiamRPN","x":8,"y":0.29},{"t":"DaSiamRPN","x":10,"y":0.34},{"t":"DaSiamRPN","x":14,"y":0.41},{"t":"DaSiamRPN","x":20,"y":0.47},{"t":"DaSiamRPN","x":30,"y":0.52},{"t":"DaSiamRPN","x":40,"y":0.55},{"t":"DaSiamRPN","x":50,"y":0.57},
{"t":"SiamMCF","x":0,"y":0},{"t":"SiamMCF","x":2,"y":0.045},{"t":"SiamMCF","x":4,"y":0.13},{"t":"SiamMCF","x":6,"y":0.21},{"t":"SiamMCF","x":8,"y":0.28},{"t":"SiamMCF","x":10,"y":0.33},{"t":"SiamMCF","x":14,"y":0.41},{"t":"SiamMCF","x":20,"y":0.48},{"t":"SiamMCF","x":30,"y":0.54},{"t":"SiamMCF","x":40,"y":0.575},{"t":"SiamMCF","x":50,"y":0.6},
{"t":"SiamRPN++","x":0,"y":0},{"t":"SiamRPN++","x":2,"y":0.055},{"t":"SiamRPN++","x":4,"y":0.16},{"t":"SiamRPN++","x":6,"y":0.255},{"t":"SiamRPN++","x":8,"y":0.325},{"t":"SiamRPN++","x":10,"y":0.38},{"t":"SiamRPN++","x":14,"y":0.45},{"t":"SiamRPN++","x":20,"y":0.51},{"t":"SiamRPN++","x":30,"y":0.565},{"t":"SiamRPN++","x":40,"y":0.6},{"t":"SiamRPN++","x":50,"y":0.62},
{"t":"SPM","x":0,"y":0},{"t":"SPM","x":2,"y":0.055},{"t":"SPM","x":4,"y":0.16},{"t":"SPM","x":6,"y":0.25},{"t":"SPM","x":8,"y":0.32},{"t":"SPM","x":10,"y":0.375},{"t":"SPM","x":14,"y":0.445},{"t":"SPM","x":20,"y":0.5},{"t":"SPM","x":30,"y":0.55},{"t":"SPM","x":40,"y":0.58},{"t":"SPM","x":50,"y":0.6},
{"t":"THOR","x":0,"y":0},{"t":"THOR","x":2,"y":0.045},{"t":"THOR","x":4,"y":0.13},{"t":"THOR","x":6,"y":0.205},{"t":"THOR","x":8,"y":0.265},{"t":"THOR","x":10,"y":0.31},{"t":"THOR","x":14,"y":0.37},{"t":"THOR","x":20,"y":0.425},{"t":"THOR","x":30,"y":0.475},{"t":"THOR","x":40,"y":0.51},{"t":"THOR","x":50,"y":0.53},
{"t":"AAA","x":0,"y":0},{"t":"AAA","x":2,"y":0.07},{"t":"AAA","x":4,"y":0.2},{"t":"AAA","x":6,"y":0.31},{"t":"AAA","x":8,"y":0.39},{"t":"AAA","x":10,"y":0.45},{"t":"AAA","x":14,"y":0.52},{"t":"AAA","x":20,"y":0.58},{"t":"AAA","x":30,"y":0.63},{"t":"AAA","x":40,"y":0.665},{"t":"AAA","x":50,"y":0.69}],
"p6":[
{"t":"ATOM","x":0,"y":0},{"t":"ATOM","x":2,"y":0.075},{"t":"ATOM","x":4,"y":0.29},{"t":"ATOM","x":6,"y":0.48},{"t":"ATOM","x":8,"y":0.58},{"t":"ATOM","x":10,"y":0.63},{"t":"ATOM","x":14,"y":0.69},{"t":"ATOM","x":20,"y":0.725},{"t":"ATOM","x":30,"y":0.76},{"t":"ATOM","x":40,"y":0.78},{"t":"ATOM","x":50,"y":0.79},
{"t":"DaSiamRPN","x":0,"y":0},{"t":"DaSiamRPN","x":2,"y":0.05},{"t":"DaSiamRPN","x":4,"y":0.2},{"t":"DaSiamRPN","x":6,"y":0.37},{"t":"DaSiamRPN","x":8,"y":0.46},{"t":"DaSiamRPN","x":10,"y":0.52},{"t":"DaSiamRPN","x":14,"y":0.58},{"t":"DaSiamRPN","x":20,"y":0.62},{"t":"DaSiamRPN","x":30,"y":0.65},{"t":"DaSiamRPN","x":40,"y":0.67},{"t":"DaSiamRPN","x":50,"y":0.68},
{"t":"SiamMCF","x":0,"y":0},{"t":"SiamMCF","x":2,"y":0.07},{"t":"SiamMCF","x":4,"y":0.27},{"t":"SiamMCF","x":6,"y":0.46},{"t":"SiamMCF","x":8,"y":0.56},{"t":"SiamMCF","x":10,"y":0.61},{"t":"SiamMCF","x":14,"y":0.67},{"t":"SiamMCF","x":20,"y":0.705},{"t":"SiamMCF","x":30,"y":0.735},{"t":"SiamMCF","x":40,"y":0.75},{"t":"SiamMCF","x":50,"y":0.76},
{"t":"SiamRPN++","x":0,"y":0},{"t":"SiamRPN++","x":2,"y":0.075},{"t":"SiamRPN++","x":4,"y":0.28},{"t":"SiamRPN++","x":6,"y":0.47},{"t":"SiamRPN++","x":8,"y":0.57},{"t":"SiamRPN++","x":10,"y":0.62},{"t":"SiamRPN++","x":14,"y":0.68},{"t":"SiamRPN++","x":20,"y":0.715},{"t":"SiamRPN++","x":30,"y":0.745},{"t":"SiamRPN++","x":40,"y":0.76},{"t":"SiamRPN++","x":50,"y":0.77},
{"t":"SPM","x":0,"y":0},{"t":"SPM","x":2,"y":0.065},{"t":"SPM","x":4,"y":0.25},{"t":"SPM","x":6,"y":0.43},{"t":"SPM","x":8,"y":0.53},{"t":"SPM","x":10,"y":0.58},{"t":"SPM","x":14,"y":0.64},{"t":"SPM","x":20,"y":0.68},{"t":"SPM","x":30,"y":0.71},{"t":"SPM","x":40,"y":0.72},{"t":"SPM","x":50,"y":0.73},
{"t":"THOR","x":0,"y":0},{"t":"THOR","x":2,"y":0.07},{"t":"THOR","x":4,"y":0.265},{"t":"THOR","x":6,"y":0.45},{"t":"THOR","x":8,"y":0.55},{"t":"THOR","x":10,"y":0.6},{"t":"THOR","x":14,"y":0.66},{"t":"THOR","x":20,"y":0.7},{"t":"THOR","x":30,"y":0.73},{"t":"THOR","x":40,"y":0.74},{"t":"THOR","x":50,"y":0.75},
{"t":"AAA","x":0,"y":0},{"t":"AAA","x":2,"y":0.08},{"t":"AAA","x":4,"y":0.3},{"t":"AAA","x":6,"y":0.5},{"t":"AAA","x":8,"y":0.6},{"t":"AAA","x":10,"y":0.65},{"t":"AAA","x":14,"y":0.705},{"t":"AAA","x":20,"y":0.74},{"t":"AAA","x":30,"y":0.775},{"t":"AAA","x":40,"y":0.795},{"t":"AAA","x":50,"y":0.81}]
},
"vconcat":[
{"hconcat":[
{"width":112,"height":83,"title":"OTB2015","data":{"name":"s1"},"mark":{"type":"line","interpolate":"monotone"},"encoding":{"x":{"field":"x","type":"quantitative","scale":{"domain":[-0.05,1.05],"nice":false,"zero":false},"axis":{"values":[0,0.5,1],"format":".1f","title":null}},"y":{"field":"y","type":"quantitative","scale":{"domain":[-0.05,1.03],"nice":false,"zero":false},"axis":{"values":[0,0.2,0.4,0.6,0.8,1],"format":".1f","title":"Success"}},"color":{"field":"t","type":"nominal","title":null,"scale":{"domain":["ATOM","DaSiamRPN","SiamMCF","SiamRPN++","SPM","THOR","AAA"],"range":["#f25cc6","#c552ec","#46e0ab","#6ad846","#b5e04e","#ef8f4c","#e0534f"]},"legend":{"encode":{"symbols":{"update":{"strokeWidth":{"signal":"datum.value === 'AAA' ? 3.5 : 1.5"}}}}}},"strokeWidth":{"condition":{"test":"datum.t === 'AAA'","value":3.2},"value":1.3}}},
{"width":112,"height":83,"title":"TColor128","data":{"name":"s2"},"mark":{"type":"line","interpolate":"monotone"},"encoding":{"x":{"field":"x","type":"quantitative","scale":{"domain":[-0.05,1.05],"nice":false,"zero":false},"axis":{"values":[0,0.5,1],"format":".1f","title":null}},"y":{"field":"y","type":"quantitative","scale":{"domain":[-0.047,0.98],"nice":false,"zero":false},"axis":{"values":[0,0.2,0.4,0.6,0.8],"format":".1f","title":null}},"color":{"field":"t","type":"nominal","title":null},"strokeWidth":{"condition":{"test":"datum.t === 'AAA'","value":3.2},"value":1.3}}},
{"width":112,"height":83,"title":"UAV123","data":{"name":"s3"},"mark":{"type":"line","interpolate":"monotone"},"encoding":{"x":{"field":"x","type":"quantitative","scale":{"domain":[-0.05,1.05],"nice":false,"zero":false},"axis":{"values":[0,0.5,1],"format":".1f","title":null}},"y":{"field":"y","type":"quantitative","scale":{"domain":[-0.045,0.9],"nice":false,"zero":false},"axis":{"values":[0,0.2,0.4,0.6,0.8],"format":".1f","title":null}},"color":{"field":"t","type":"nominal","title":null},"strokeWidth":{"condition":{"test":"datum.t === 'AAA'","value":3.2},"value":1.3}}},
{"width":112,"height":83,"title":"NFS","data":{"name":"s4"},"mark":{"type":"line","interpolate":"monotone"},"encoding":{"x":{"field":"x","type":"quantitative","scale":{"domain":[-0.05,1.05],"nice":false,"zero":false},"axis":{"values":[0,0.5,1],"format":".1f","title":null}},"y":{"field":"y","type":"quantitative","scale":{"domain":[-0.045,0.9],"nice":false,"zero":false},"axis":{"values":[0,0.2,0.4,0.6,0.8],"format":".1f","title":null}},"color":{"field":"t","type":"nominal","title":null},"strokeWidth":{"condition":{"test":"datum.t === 'AAA'","value":3.2},"value":1.3}}},
{"width":112,"height":83,"title":"LaSOT","data":{"name":"s5"},"mark":{"type":"line","interpolate":"monotone"},"encoding":{"x":{"field":"x","type":"quantitative","scale":{"domain":[-0.05,1.05],"nice":false,"zero":false},"axis":{"values":[0,0.5,1],"format":".1f","title":null}},"y":{"field":"y","type":"quantitative","scale":{"domain":[-0.04,0.85],"nice":false,"zero":false},"axis":{"values":[0,0.2,0.4,0.6,0.8],"format":".1f","title":null}},"color":{"field":"t","type":"nominal","title":null},"strokeWidth":{"condition":{"test":"datum.t === 'AAA'","value":3.2},"value":1.3}}},
{"width":112,"height":83,"title":"VOT2018","data":{"name":"s6"},"mark":{"type":"line","interpolate":"monotone"},"encoding":{"x":{"field":"x","type":"quantitative","scale":{"domain":[-0.05,1.05],"nice":false,"zero":false},"axis":{"values":[0,0.5,1],"format":".1f","title":null}},"y":{"field":"y","type":"quantitative","scale":{"domain":[-0.045,0.9],"nice":false,"zero":false},"axis":{"values":[0,0.2,0.4,0.6,0.8],"format":".1f","title":null}},"color":{"field":"t","type":"nominal","title":null},"strokeWidth":{"condition":{"test":"datum.t === 'AAA'","value":3.2},"value":1.3}}}
],"spacing":22.3,"bounds":"flush","title":{"text":"Threshold for IoU","orient":"bottom","anchor":"middle","fontSize":8.5,"offset":3}},
{"hconcat":[
{"width":112,"height":82,"data":{"name":"p1"},"mark":{"type":"line","interpolate":"monotone"},"encoding":{"x":{"field":"x","type":"quantitative","scale":{"domain":[-2.5,52.5],"nice":false,"zero":false},"axis":{"values":[0,20,40],"format":"d","title":null}},"y":{"field":"y","type":"quantitative","scale":{"domain":[-0.045,1.013],"nice":false,"zero":false},"axis":{"values":[0,0.2,0.4,0.6,0.8,1],"format":".1f","title":"Precision"}},"color":{"field":"t","type":"nominal","title":null},"strokeWidth":{"condition":{"test":"datum.t === 'AAA'","value":3.2},"value":1.3}}},
{"width":112,"height":82,"data":{"name":"p2"},"mark":{"type":"line","interpolate":"monotone"},"encoding":{"x":{"field":"x","type":"quantitative","scale":{"domain":[-2.5,52.5],"nice":false,"zero":false},"axis":{"values":[0,20,40],"format":"d","title":null}},"y":{"field":"y","type":"quantitative","scale":{"domain":[-0.042,0.964],"nice":false,"zero":false},"axis":{"values":[0,0.2,0.4,0.6,0.8],"format":".1f","title":null}},"color":{"field":"t","type":"nominal","title":null},"strokeWidth":{"condition":{"test":"datum.t === 'AAA'","value":3.2},"value":1.3}}},
{"width":112,"height":82,"data":{"name":"p3"},"mark":{"type":"line","interpolate":"monotone"},"encoding":{"x":{"field":"x","type":"quantitative","scale":{"domain":[-2.5,52.5],"nice":false,"zero":false},"axis":{"values":[0,20,40],"format":"d","title":null}},"y":{"field":"y","type":"quantitative","scale":{"domain":[-0.04,0.92],"nice":false,"zero":false},"axis":{"values":[0,0.2,0.4,0.6,0.8],"format":".1f","title":null}},"color":{"field":"t","type":"nominal","title":null},"strokeWidth":{"condition":{"test":"datum.t === 'AAA'","value":3.2},"value":1.3}}},
{"width":112,"height":82,"data":{"name":"p4"},"mark":{"type":"line","interpolate":"monotone"},"encoding":{"x":{"field":"x","type":"quantitative","scale":{"domain":[-2.5,52.5],"nice":false,"zero":false},"axis":{"values":[0,20,40],"format":"d","title":null}},"y":{"field":"y","type":"quantitative","scale":{"domain":[-0.04,0.905],"nice":false,"zero":false},"axis":{"values":[0,0.2,0.4,0.6,0.8],"format":".1f","title":null}},"color":{"field":"t","type":"nominal","title":null},"strokeWidth":{"condition":{"test":"datum.t === 'AAA'","value":3.2},"value":1.3}}},
{"width":112,"height":82,"data":{"name":"p5"},"mark":{"type":"line","interpolate":"monotone"},"encoding":{"x":{"field":"x","type":"quantitative","scale":{"domain":[-2.5,52.5],"nice":false,"zero":false},"axis":{"values":[0,20,40],"format":"d","title":null}},"y":{"field":"y","type":"quantitative","scale":{"domain":[-0.035,0.725],"nice":false,"zero":false},"axis":{"values":[0,0.2,0.4,0.6],"format":".1f","title":null}},"color":{"field":"t","type":"nominal","title":null},"strokeWidth":{"condition":{"test":"datum.t === 'AAA'","value":3.2},"value":1.3}}},
{"width":112,"height":82,"data":{"name":"p6"},"mark":{"type":"line","interpolate":"monotone"},"encoding":{"x":{"field":"x","type":"quantitative","scale":{"domain":[-2.5,52.5],"nice":false,"zero":false},"axis":{"values":[0,20,40],"format":"d","title":null}},"y":{"field":"y","type":"quantitative","scale":{"domain":[-0.04,0.855],"nice":false,"zero":false},"axis":{"values":[0,0.2,0.4,0.6,0.8],"format":".1f","title":null}},"color":{"field":"t","type":"nominal","title":null},"strokeWidth":{"condition":{"test":"datum.t === 'AAA'","value":3.2},"value":1.3}}}
],"spacing":22.3,"bounds":"flush","title":{"text":"Threshold for distance","orient":"bottom","anchor":"middle","fontSize":8.5,"offset":3}}
],"spacing":7}
